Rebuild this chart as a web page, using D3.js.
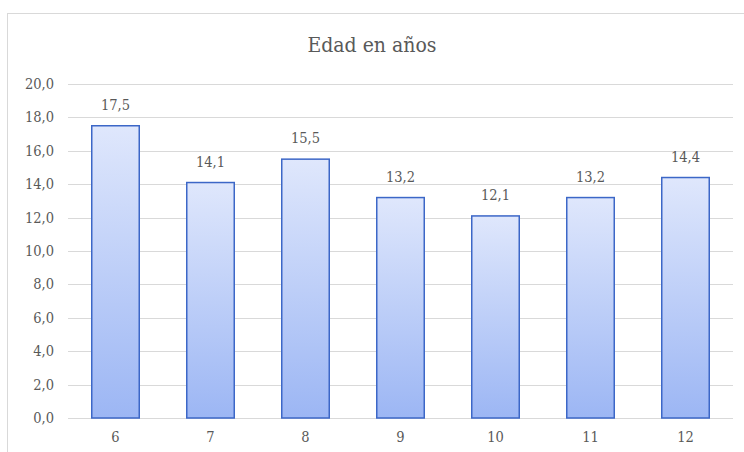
<!DOCTYPE html>
<html>
<head>
<meta charset="utf-8">
<script src="https://cdn.jsdelivr.net/npm/d3@7"></script>
<style>
  body { margin: 0; background: #fff; }
</style>
</head>
<body>
<div id="chart"></div>
<script>
// Data
const categories = ["6", "7", "8", "9", "10", "11", "12"];
const values = [17.5, 14.1, 15.5, 13.2, 12.1, 13.2, 14.4];
const yTicks = [0, 2, 4, 6, 8, 10, 12, 14, 16, 18, 20];

const width = 744;
const height = 452;
const margin = { top: 84, right: 11, bottom: 34, left: 68 };
const serif = "'DejaVu Serif Condensed', 'DejaVu Serif', serif";

const fmt = v => v.toFixed(1).replace(".", ",");

const svg = d3.select("#chart").append("svg")
    .attr("width", width)
    .attr("height", height)
    .style("font-family", serif)
    .style("font-stretch", "condensed");

// Gradient for the bars
const grad = svg.append("defs").append("linearGradient")
    .attr("id", "barGrad")
    .attr("x1", 0).attr("y1", 0).attr("x2", 0).attr("y2", 1);
grad.append("stop").attr("offset", "0%").attr("stop-color", "#dfe7fc");
grad.append("stop").attr("offset", "100%").attr("stop-color", "#9cb6f4");

// Chart border
svg.append("rect")
    .attr("x", 7.5).attr("y", 13.5)
    .attr("width", width + 20).attr("height", height + 20)
    .attr("fill", "none")
    .attr("stroke", "#d9d9d9");

const x = d3.scaleBand()
    .domain(categories)
    .range([margin.left, width - margin.right])
    .paddingInner(0.5)
    .paddingOuter(0.25);

const y = d3.scaleLinear()
    .domain([0, 20])
    .range([height - margin.bottom, margin.top]);

// Gridlines
svg.append("g")
    .selectAll("line")
    .data(yTicks)
    .enter().append("line")
    .attr("x1", margin.left)
    .attr("x2", width - margin.right)
    .attr("y1", d => Math.round(y(d)) + 0.5)
    .attr("y2", d => Math.round(y(d)) + 0.5)
    .attr("stroke", "#d9d9d9")
    .attr("stroke-width", 1.2);

// Y axis labels
svg.append("g")
    .selectAll("text")
    .data(yTicks)
    .enter().append("text")
    .attr("x", 54)
    .attr("y", d => y(d))
    .attr("dy", "0.35em")
    .attr("text-anchor", "end")
    .attr("fill", "#595959")
    .style("font-size", "14.5px")
    .text(d => fmt(d));

// Bars
svg.append("g")
    .selectAll("rect")
    .data(values)
    .enter().append("rect")
    .attr("x", (d, i) => x(categories[i]))
    .attr("y", d => y(d))
    .attr("width", x.bandwidth())
    .attr("height", d => y(0) - y(d))
    .attr("fill", "url(#barGrad)")
    .attr("stroke", "#3c67c7")
    .attr("stroke-width", 1.5);

// Data labels
svg.append("g")
    .selectAll("text")
    .data(values)
    .enter().append("text")
    .attr("x", (d, i) => x(categories[i]) + x.bandwidth() / 2)
    .attr("y", d => y(d) - 16)
    .attr("text-anchor", "middle")
    .attr("fill", "#595959")
    .style("font-size", "14.5px")
    .text(d => fmt(d));

// X axis labels
svg.append("g")
    .selectAll("text")
    .data(categories)
    .enter().append("text")
    .attr("x", d => x(d) + x.bandwidth() / 2)
    .attr("y", height - margin.bottom + 24)
    .attr("text-anchor", "middle")
    .attr("fill", "#595959")
    .style("font-size", "14.5px")
    .text(d => d);

// Title
svg.append("text")
    .attr("x", 372)
    .attr("y", 52)
    .attr("text-anchor", "middle")
    .attr("fill", "#595959")
    .style("font-size", "21px")
    .text("Edad en años");
</script>
</body>
</html>
